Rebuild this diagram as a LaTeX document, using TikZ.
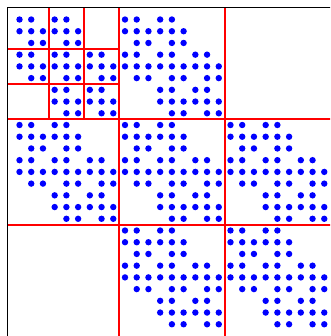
\documentclass[tikz,border=0pt]{standalone}
\begin{document}
\begin{tikzpicture}[x=11.72pt,y=-11.72pt,
  entry/.style={fill=blue},
  split/.style={red,line width=1.8pt},
  frameline/.style={black,line width=0.9pt}]
\clip (-1.664,-1.664) rectangle (26.49,27.0);
% nonzero entries: three levels of the 3x3 tridiagonal pattern
\foreach \ra/\ca in {0/0,0/1,1/0,1/1,1/2,2/1,2/2}{
  \foreach \rb/\cb in {0/0,0/1,1/0,1/1,1/2,2/1,2/2}{
    \foreach \rc/\cc in {0/0,0/1,1/0,1/1,1/2,2/1,2/2}{
      \fill[entry] ({9*\ca+3*\cb+\cc},{9*\ra+3*\rb+\rc}) circle (3.2pt);
}}}
% first level of the partition
\foreach \p in {8.5,17.5}{
  \draw[split] (\p,-1) -- (\p,27);
  \draw[split] (-1,\p) -- (27,\p);
}
% second level, top left block only
\foreach \p in {2.5,5.5}{
  \draw[split] (\p,-1) -- (\p,8.5);
  \draw[split] (-1,\p) -- (8.5,\p);
}
\draw[frameline] (-1,27) -- (-1,-1) -- (27,-1);
\end{tikzpicture}
\end{document}
